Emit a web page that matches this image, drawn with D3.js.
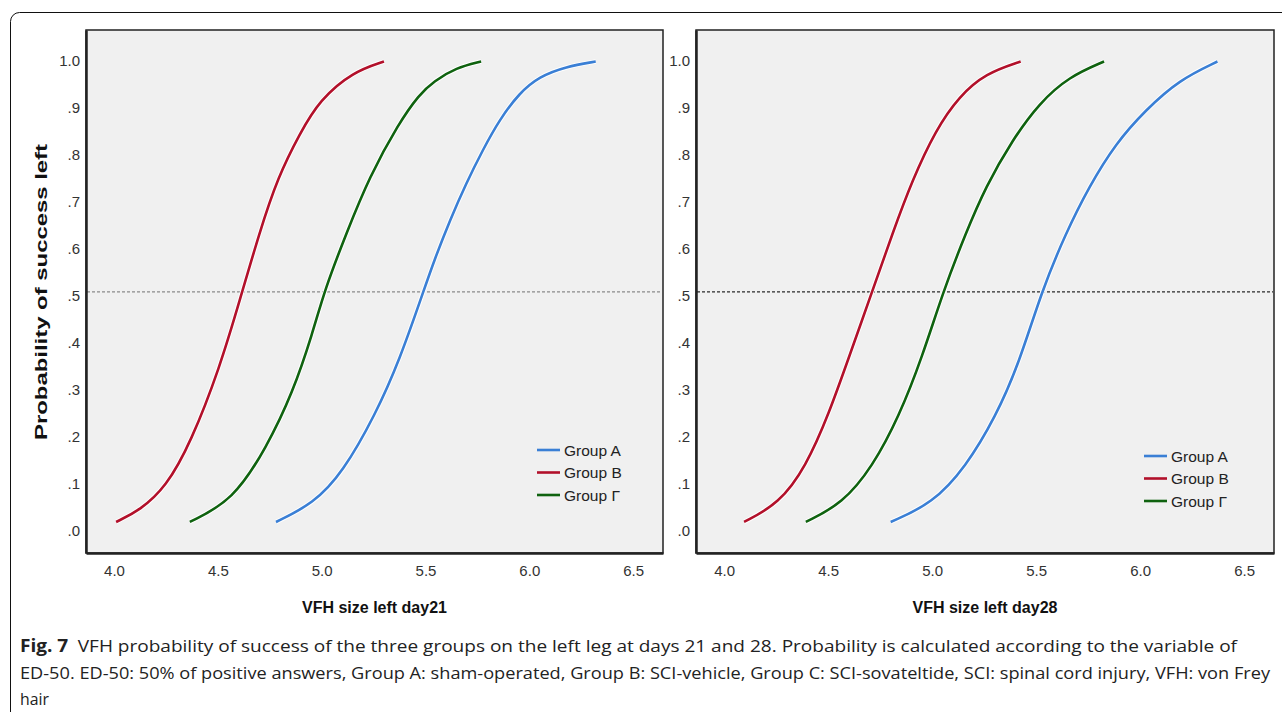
<!DOCTYPE html>
<html>
<head>
<meta charset="utf-8">
<script src="https://cdn.jsdelivr.net/npm/d3@7"></script>
<style>
  body { margin: 0; background: #fff; }
  svg { display: block; }
</style>
</head>
<body>
<div id="chart"></div>
<script>
// Data: [VFH size, probability]

let groups = ["Group A", "Group B", "Group \u0393"];
let groupColors = ["#3a7fd5", "#b2102a", "#0f620f"];

let xTicks = [4.0, 4.5, 5.0, 5.5, 6.0, 6.5];
let yTicks = [0, 0.1, 0.2, 0.3, 0.4, 0.5, 0.6, 0.7, 0.8, 0.9, 1.0];
let yTickLabels = [".0", ".1", ".2", ".3", ".4", ".5", ".6", ".7", ".8", ".9", "1.0"];

let day21A = [[4.78, 0.011], [4.96, 0.05], [5.10, 0.115], [5.26, 0.24], [5.375, 0.355], [5.487, 0.497],
    [5.54, 0.565], [5.62, 0.655], [5.696, 0.731], [5.776, 0.802], [5.856, 0.866], [5.952, 0.923],
    [6.048, 0.958], [6.176, 0.979], [6.32, 0.99]];
let day21B = [[4.01, 0.011], [4.125, 0.036], [4.25, 0.085], [4.37, 0.18], [4.51, 0.34], [4.606, 0.483],
    [4.70, 0.626], [4.79, 0.745], [4.895, 0.837], [4.99, 0.908], [5.15, 0.968], [5.30, 0.99]];
let day21G = [[4.365, 0.011], [4.574, 0.057], [4.735, 0.17], [4.86, 0.285], [4.957, 0.413], [5.014, 0.504],
    [5.12, 0.626], [5.23, 0.745], [5.37, 0.858], [5.47, 0.92], [5.54, 0.948], [5.648, 0.977], [5.768, 0.99]];

let day28A = [[4.801, 0.011], [5.001, 0.05], [5.162, 0.128], [5.306, 0.235], [5.418, 0.348], [5.527, 0.502],
    [5.643, 0.625], [5.755, 0.724], [5.883, 0.816], [6.027, 0.887], [6.188, 0.951], [6.372, 0.99]];
let day28B = [[4.096, 0.011], [4.264, 0.05], [4.393, 0.128], [4.505, 0.242], [4.601, 0.362], [4.713, 0.502],
    [4.81, 0.625], [4.905, 0.738], [5.018, 0.845], [5.13, 0.916], [5.258, 0.965], [5.426, 0.99]];
let day28G = [[4.393, 0.011], [4.569, 0.05], [4.713, 0.128], [4.841, 0.235], [4.953, 0.362], [5.054, 0.502],
    [5.162, 0.625], [5.258, 0.724], [5.386, 0.823], [5.514, 0.901], [5.659, 0.958], [5.827, 0.99]];

let captionLines = [
    "VFH probability of success of the three groups on the left leg at days 21 and 28. Probability is calculated according to the variable of",
    "ED-50. ED-50: 50% of positive answers, Group A: sham-operated, Group B: SCI-vehicle, Group C: SCI-sovateltide, SCI: spinal cord injury, VFH: von Frey",
    "hair"
];

let WIDTH = 1282, HEIGHT = 712;
let TICK_FONT = "'Liberation Sans Narrow', 'Arial Narrow', 'Liberation Sans', sans-serif";
let TITLE_FONT = "'Liberation Sans', Arial, sans-serif";

let svg = d3.select("#chart").append("svg")
    .attr("width", WIDTH)
    .attr("height", HEIGHT);

// outer frame of the figure box (runs off right and bottom)
svg.append("rect")
    .attr("x", 10.5).attr("y", 12.5)
    .attr("width", 1290).attr("height", 720)
    .attr("rx", 9)
    .attr("fill", "none")
    .attr("stroke", "#111")
    .attr("stroke-width", 1);

let panels = [
    {left: 86, right: 663, title: "VFH size left day21", series: [day21A, day21B, day21G],
        dash: "#8a8a8a", legendX: 537, legendY: 450, yAxisTitle: true},
    {left: 696, right: 1274, title: "VFH size left day28", series: [day28A, day28B, day28G],
        dash: "#2a2a2a", legendX: 1144, legendY: 456, yAxisTitle: false}
];

let TOP = 30, BOTTOM = 553;

panels.forEach(function (p) {
    let x = d3.scaleLinear().domain([3.865, 6.644]).range([p.left, p.right]);
    let y = d3.scaleLinear().domain([-0.055, 1.057]).range([BOTTOM, TOP]);

    let g = svg.append("g");

    g.append("rect")
        .attr("x", p.left).attr("y", TOP)
        .attr("width", p.right - p.left).attr("height", BOTTOM - TOP)
        .attr("fill", "#f0f0f0")
        .attr("stroke", "#222")
        .attr("stroke-width", 1.5);

    // 50% reference line
    g.append("line")
        .attr("x1", p.left + 1).attr("x2", p.right - 1)
        .attr("y1", y(0.5)).attr("y2", y(0.5))
        .attr("stroke", p.dash)
        .attr("stroke-width", 1.3)
        .attr("stroke-dasharray", "3,2");

    // axes, no tick marks
    let xAxis = d3.axisBottom(x).tickValues(xTicks).tickFormat(d3.format(".1f")).tickSize(0).tickPadding(12);
    let gx = g.append("g").attr("transform", `translate(0,${BOTTOM})`).call(xAxis);
    gx.select(".domain").attr("stroke", "#222").attr("stroke-width", 2.5);
    gx.selectAll("text").attr("font-family", TICK_FONT).attr("font-size", 15).attr("fill", "#333");

    let yAxis = d3.axisLeft(y).tickValues(yTicks)
        .tickFormat(function (d, i) { return yTickLabels[i]; })
        .tickSize(0).tickPadding(6);
    let gy = g.append("g").attr("transform", `translate(${p.left},0)`).call(yAxis);
    gy.select(".domain").attr("stroke", "#222").attr("stroke-width", 2.5);
    gy.selectAll("text").attr("font-family", TICK_FONT).attr("font-size", 15).attr("fill", "#333")
        .attr("dy", "0.55em");

    // smooth through the read points
    let line = d3.line()
        .x(function (d) { return x(d[0]); })
        .y(function (d) { return y(d[1]); })
        .curve(d3.curveBasis);

    p.series.forEach(function (s, i) {
        g.append("path")
            .datum(s)
            .attr("d", line)
            .attr("fill", "none")
            .attr("stroke", "#fff")
            .attr("stroke-width", 4.5)
            .attr("stroke-linecap", "butt");
        g.append("path")
            .datum(s)
            .attr("d", line)
            .attr("fill", "none")
            .attr("stroke", groupColors[i])
            .attr("stroke-width", 2.6)
            .attr("stroke-linecap", "butt");
    });

    // legend
    groups.forEach(function (name, i) {
        let ly = p.legendY + i * 22.5;
        g.append("line")
            .attr("x1", p.legendX).attr("x2", p.legendX + 23)
            .attr("y1", ly).attr("y2", ly)
            .attr("stroke", groupColors[i])
            .attr("stroke-width", 2.6);
        g.append("text")
            .attr("x", p.legendX + 27).attr("y", ly + 5.5)
            .attr("font-family", TICK_FONT).attr("font-size", 15.5).attr("fill", "#222")
            .text(name);
    });

    g.append("text")
        .attr("x", (p.left + p.right) / 2 + 0).attr("y", 613)
        .attr("text-anchor", "middle")
        .attr("font-family", TITLE_FONT).attr("font-weight", "bold").attr("font-size", 16)
        .attr("fill", "#111")
        .text(p.title);

    if (p.yAxisTitle) {
        g.append("text")
            .attr("transform", `translate(47,${y(0.5)}) rotate(-90)`)
            .attr("text-anchor", "middle")
            .attr("font-family", TITLE_FONT).attr("font-weight", "bold").attr("font-size", 17)
            .attr("textLength", 296).attr("lengthAdjust", "spacingAndGlyphs")
            .attr("fill", "#111")
            .text("Probability of success left");
    }
});

// caption
let CAP_FONT = "'Open Sans', 'Noto Sans', sans-serif";
let cap = svg.append("g").attr("font-family", CAP_FONT).attr("font-size", 17).attr("fill", "#222");
let first = cap.append("text").attr("x", 20).attr("y", 652)
    .attr("textLength", 1217).attr("lengthAdjust", "spacingAndGlyphs");
first.append("tspan").attr("font-weight", "bold").text("Fig. 7");
first.append("tspan").text("\u2002" + captionLines[0]);
cap.append("text").attr("x", 20).attr("y", 679)
    .attr("textLength", 1250).attr("lengthAdjust", "spacingAndGlyphs")
    .text(captionLines[1]);
cap.append("text").attr("x", 20).attr("y", 705)
    .attr("textLength", 29).attr("lengthAdjust", "spacingAndGlyphs")
    .text(captionLines[2]);
</script>
</body>
</html>
